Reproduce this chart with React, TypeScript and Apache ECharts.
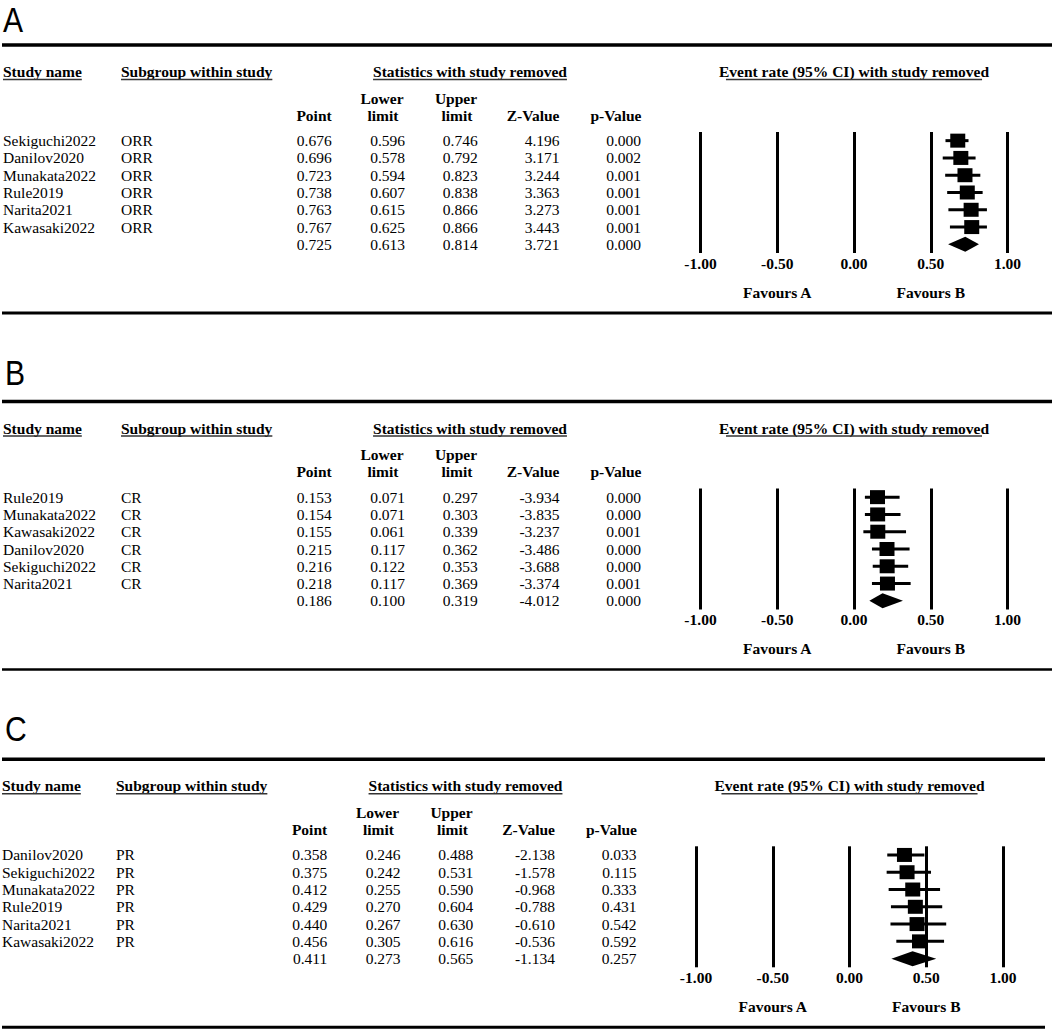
import React, { useEffect, useRef } from 'react';
import * as echarts from 'echarts';

// ---------- data ----------
const panelLetters = ['A', 'B', 'C'];
const subgroups = ['ORR', 'CR', 'PR'];

const studiesA = ['Sekiguchi2022', 'Danilov2020', 'Munakata2022', 'Rule2019', 'Narita2021', 'Kawasaki2022'];
const pointA = [0.676, 0.696, 0.723, 0.738, 0.763, 0.767, 0.725];
const lowerA = [0.596, 0.578, 0.594, 0.607, 0.615, 0.625, 0.613];
const upperA = [0.746, 0.792, 0.823, 0.838, 0.866, 0.866, 0.814];
const zA = [4.196, 3.171, 3.244, 3.363, 3.273, 3.443, 3.721];
const pA = [0.0, 0.002, 0.001, 0.001, 0.001, 0.001, 0.0];

const studiesB = ['Rule2019', 'Munakata2022', 'Kawasaki2022', 'Danilov2020', 'Sekiguchi2022', 'Narita2021'];
const pointB = [0.153, 0.154, 0.155, 0.215, 0.216, 0.218, 0.186];
const lowerB = [0.071, 0.071, 0.061, 0.117, 0.122, 0.117, 0.1];
const upperB = [0.297, 0.303, 0.339, 0.362, 0.353, 0.369, 0.319];
const zB = [-3.934, -3.835, -3.237, -3.486, -3.688, -3.374, -4.012];
const pB = [0.0, 0.0, 0.001, 0.0, 0.0, 0.001, 0.0];

const studiesC = ['Danilov2020', 'Sekiguchi2022', 'Munakata2022', 'Rule2019', 'Narita2021', 'Kawasaki2022'];
const pointC = [0.358, 0.375, 0.412, 0.429, 0.44, 0.456, 0.411];
const lowerC = [0.246, 0.242, 0.255, 0.27, 0.267, 0.305, 0.273];
const upperC = [0.488, 0.531, 0.59, 0.604, 0.63, 0.616, 0.565];
const zC = [-2.138, -1.578, -0.968, -0.788, -0.61, -0.536, -1.134];
const pC = [0.033, 0.115, 0.333, 0.431, 0.542, 0.592, 0.257];

const headerTexts = ['Study name', 'Subgroup within study', 'Statistics with study removed', 'Event rate (95% CI) with study removed'];
const favourLabels = ['Favours A', 'Favours B'];
const axisMin = -1;
const axisMax = 1;
const axisStep = 0.5;

// ---------- layout ----------
const FONT = '"Liberation Serif", "Times New Roman", serif';
const fReg = `15.5px ${FONT}`;
const fBold = `bold 15.5px ${FONT}`;
const fLetter = `35px "Liberation Sans", Arial, sans-serif`;

const panels = [
  { studies: studiesA, point: pointA, lower: lowerA, upper: upperA, z: zA, p: pA, top: 45, shift: 0, nameX: 3, subX: 121, letterX: 3, letterY: 20, lineRight: 1052, topW: 3.5, botW: 3 },
  { studies: studiesB, point: pointB, lower: lowerB, upper: upperB, z: zB, p: pB, top: 401.5, shift: 0, nameX: 3, subX: 121, letterX: 5, letterY: 373, lineRight: 1052, topW: 3.5, botW: 2.5 },
  { studies: studiesC, point: pointC, lower: lowerC, upper: upperC, z: zC, p: pC, top: 759.3, shift: -4.5, nameX: 2, subX: 116, letterX: 5, letterY: 728.7, lineRight: 1045, topW: 3.5, botW: 3 },
];
const colRight = [331.7, 405, 477.7, 559.5, 641];

let measureCtx: CanvasRenderingContext2D | null = null;
function textWidth(t: string, font: string) {
  if (!measureCtx) measureCtx = document.createElement('canvas').getContext('2d');
  measureCtx!.font = font;
  return measureCtx!.measureText(t).width;
}

function txt(x: number, y: number, text: string, align: string, font: string) {
  return {
    type: 'text',
    x,
    y,
    style: {
      text,
      font,
      fill: '#000',
      align,
      verticalAlign: 'middle',
      textAlign: align,
      textVerticalAlign: 'middle',
    },
  };
}

function hline(x1: number, x2: number, y: number, w: number, color = '#000') {
  return { type: 'line', shape: { x1, y1: y, x2, y2: y }, style: { stroke: color, lineWidth: w } };
}

function buildOption() {
  const grid: any[] = [];
  const xAxis: any[] = [];
  const yAxis: any[] = [];
  const series: any[] = [];
  const graphic: any[] = [];

  panels.forEach((pn, k) => {
    const T = pn.top;
    const S = pn.shift;
    const gridLeft = 700.5 + S;
    const gridW = 307;
    const gridTop = T + 87;
    const gridH = 121;
    const rowLabels = [...pn.studies, 'Combined'];

    grid.push({ left: gridLeft, top: gridTop, width: gridW, height: gridH });
    xAxis.push({
      gridIndex: k,
      type: 'value',
      min: axisMin,
      max: axisMax,
      interval: axisStep,
      axisLine: { show: false },
      axisTick: { show: false },
      splitLine: { show: true, lineStyle: { color: '#000', width: 3 } },
      axisLabel: {
        formatter: (v: number) => v.toFixed(2),
        color: '#000',
        fontFamily: FONT,
        fontWeight: 'bold',
        fontSize: 15.5,
        margin: 2,
      },
    });
    xAxis.push({
      gridIndex: k,
      type: 'value',
      position: 'bottom',
      offset: 29,
      min: axisMin,
      max: axisMax,
      interval: axisStep,
      axisLine: { show: false },
      axisTick: { show: false },
      splitLine: { show: false },
      axisLabel: {
        formatter: (v: number) => (v === -0.5 ? favourLabels[0] : v === 0.5 ? favourLabels[1] : ''),
        color: '#000',
        fontFamily: FONT,
        fontWeight: 'bold',
        fontSize: 15.5,
        margin: 2,
      },
    });
    yAxis.push({ gridIndex: k, type: 'category', inverse: true, data: rowLabels, show: false });

    const nStudies = pn.studies.length;
    series.push({
      type: 'custom',
      xAxisIndex: 2 * k,
      yAxisIndex: k,
      clip: false,
      data: pn.point.map((v, i) => [v, i, pn.lower[i], pn.upper[i], i === nStudies ? 1 : 0]),
      encode: { x: [0, 2, 3], y: 1 },
      renderItem: (params: any, api: any) => {
        const pt = api.coord([api.value(0), api.value(1)]);
        const lo = api.coord([api.value(2), api.value(1)]);
        const hi = api.coord([api.value(3), api.value(1)]);
        if (api.value(4)) {
          return {
            type: 'polygon',
            shape: { points: [[lo[0], pt[1]], [pt[0], pt[1] - 7.5], [hi[0], pt[1]], [pt[0], pt[1] + 7.5]] },
            style: { fill: '#000' },
          };
        }
        return {
          type: 'group',
          children: [
            { type: 'line', shape: { x1: lo[0], y1: pt[1], x2: hi[0], y2: pt[1] }, style: { stroke: '#000', lineWidth: 3 } },
            { type: 'rect', shape: { x: pt[0] - 7.5, y: pt[1] - 7, width: 15, height: 14 }, style: { fill: '#000' } },
          ],
        };
      },
    });

    // table rows placed via the same category scale
    series.push({
      type: 'custom',
      xAxisIndex: 2 * k,
      yAxisIndex: k,
      clip: false,
      silent: true,
      data: pn.point.map((_, i) => [0, i]),
      encode: { x: 0, y: 1 },
      renderItem: (params: any, api: any) => {
        const i = params.dataIndex;
        const y = api.coord([0, i])[1];
        const children: any[] = [];
        if (i < nStudies) {
          children.push(txt(pn.nameX, y, pn.studies[i], 'left', fReg));
          children.push(txt(pn.subX, y, subgroups[k], 'left', fReg));
        }
        const vals = [pn.point[i], pn.lower[i], pn.upper[i], pn.z[i], pn.p[i]];
        vals.forEach((v, j) => children.push(txt(colRight[j] + S, y, v.toFixed(3), 'right', fReg)));
        return { type: 'group', children };
      },
    });

    // panel letter and rules
    graphic.push({ ...txt(pn.letterX, pn.letterY, panelLetters[k], 'left', fLetter), scaleX: 0.86 });
    graphic.push(hline(2, pn.lineRight, T, pn.topW));
    graphic.push(hline(2, pn.lineRight, T + 268, pn.botW));

    // headers with underlines
    const hy = T + 26.5;
    const uy = T + 34.5;
    const statsCenter = 470 + S;
    const eventCenter = gridLeft + gridW / 2;
    const hdrs = [
      { t: headerTexts[0], x: pn.nameX, align: 'left', inset: 0 },
      { t: headerTexts[1], x: pn.subX, align: 'left', inset: 0 },
      { t: headerTexts[2], x: statsCenter, align: 'center', inset: 0 },
      { t: headerTexts[3], x: eventCenter, align: 'center', inset: 7 },
    ];
    hdrs.forEach((h) => {
      graphic.push(txt(h.x, hy, h.t, h.align, fBold));
      const w = textWidth(h.t, fBold);
      const x1 = h.align === 'left' ? h.x : h.x - w / 2;
      graphic.push(hline(x1 + h.inset, x1 + w - h.inset, uy, 1.6, '#333'));
    });

    // sub headers
    const s1 = T + 53;
    const s2 = T + 70.3;
    graphic.push(txt(colRight[0] + S, s2, 'Point', 'right', fBold));
    graphic.push(txt(382 + S, s1, 'Lower', 'center', fBold));
    graphic.push(txt(383 + S, s2, 'limit', 'center', fBold));
    graphic.push(txt(456 + S, s1, 'Upper', 'center', fBold));
    graphic.push(txt(457 + S, s2, 'limit', 'center', fBold));
    graphic.push(txt(colRight[3] + S, s2, 'Z-Value', 'right', fBold));
    graphic.push(txt(colRight[4] + 0.5 + S, s2, 'p-Value', 'right', fBold));
  });

  return {
    animation: false,
    backgroundColor: '#fff',
    grid,
    xAxis,
    yAxis,
    series,
    graphic,
  };
}

export default function App() {
  const ref = useRef<HTMLDivElement>(null);
  useEffect(() => {
    document.body.style.margin = '0';
    const chart = echarts.init(ref.current!, null, { renderer: 'svg' });
    chart.setOption(buildOption() as any);
    return () => chart.dispose();
  }, []);
  return <div ref={ref} style={{ width: 1052, height: 1032 }} />;
}
